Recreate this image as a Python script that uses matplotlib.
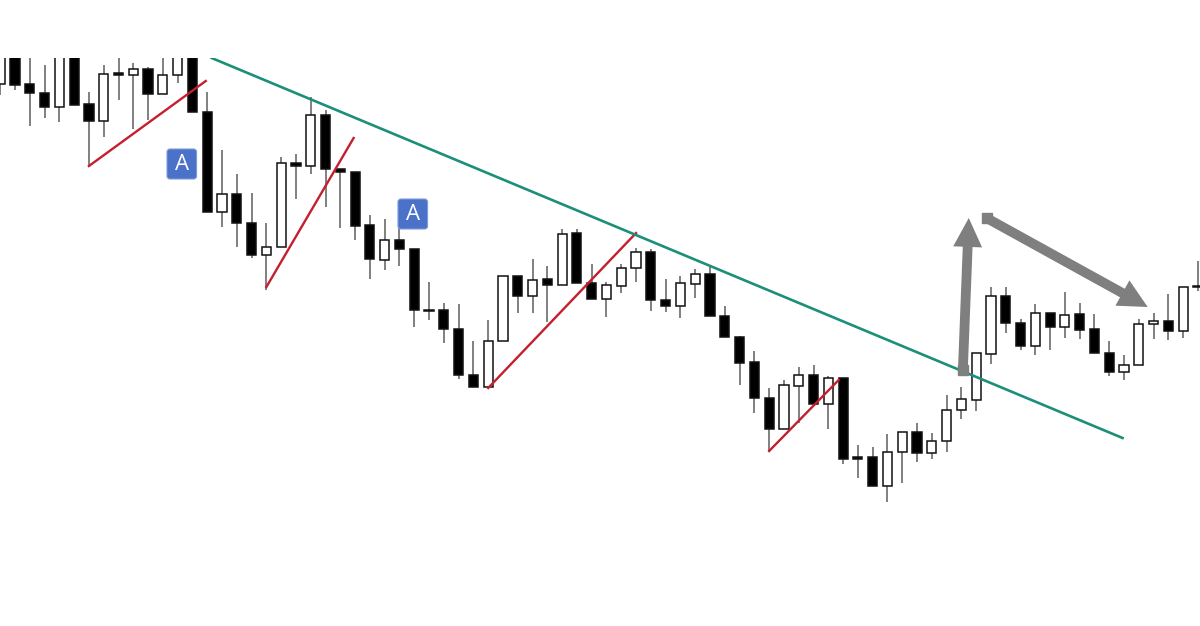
import matplotlib
matplotlib.use("Agg")
import matplotlib.pyplot as plt
from matplotlib.patches import FancyBboxPatch

# all values, price axis is in image rows (inverted)
body_top = [50, 50, 84, 93, 50, 50, 104, 74, 73, 69, 69, 75, 50, 50, 112, 194, 194, 223, 247, 163,
            163, 115, 115, 169, 172, 225, 240, 240, 249, 310, 310, 329, 375, 341, 276, 276, 280, 279, 234, 233,
            283, 285, 268, 252, 252, 300, 283, 274, 274, 316, 337, 362, 398, 385, 375, 375, 378, 378, 457, 457,
            452, 432, 432, 441, 410, 399, 353, 296, 296, 323, 313, 313, 315, 314, 329, 353, 365, 324, 321, 321,
            287, 286]
body_bottom = [84, 85, 93, 107, 107, 105, 121, 121, 75, 75, 94, 94, 75, 112, 212, 212, 223, 255, 255, 247,
               166, 166, 169, 172, 226, 259, 260, 249, 310, 311, 329, 375, 387, 387, 341, 296, 296, 285, 285, 283,
               299, 299, 286, 268, 300, 306, 306, 284, 316, 337, 363, 398, 429, 429, 386, 404, 404, 459, 459, 486,
               486, 452, 453, 453, 441, 410, 400, 354, 323, 346, 346, 327, 327, 330, 353, 372, 372, 365, 324, 331,
               331, 287]
wick_high = [50, 50, 50, 65, 50, 50, 92, 65, 50, 63, 67, 50, 50, 50, 92, 150, 174, 193, 223, 157,
             154, 97, 110, 169, 172, 215, 219, 228, 249, 282, 303, 304, 341, 320, 276, 276, 259, 266, 229, 229,
             264, 282, 264, 248, 249, 279, 276, 269, 267, 306, 336, 351, 388, 380, 367, 365, 376, 378, 445, 447,
             434, 432, 423, 433, 395, 387, 353, 287, 287, 319, 304, 313, 292, 303, 314, 341, 355, 319, 313, 294,
             287, 261]
wick_low = [95, 90, 126, 118, 122, 105, 167, 137, 100, 129, 120, 94, 83, 112, 212, 227, 247, 258, 290, 247,
            199, 174, 207, 228, 240, 279, 270, 266, 327, 320, 343, 379, 387, 387, 341, 313, 313, 322, 285, 283,
            299, 317, 293, 282, 311, 312, 318, 298, 316, 337, 385, 413, 452, 429, 423, 404, 429, 464, 478, 486,
            502, 483, 462, 459, 452, 419, 411, 364, 333, 350, 355, 350, 338, 339, 353, 376, 380, 365, 339, 340,
            338, 291]
hollow = [1, 0, 0, 0, 1, 0, 0, 1, 0, 1, 0, 1, 1, 0, 0, 1, 0, 0, 1, 1,
          0, 1, 0, 0, 0, 0, 1, 0, 0, 0, 0, 0, 0, 1, 1, 0, 1, 0, 1, 0,
          0, 1, 1, 1, 0, 0, 1, 1, 0, 0, 0, 0, 0, 1, 1, 0, 1, 0, 0, 0,
          1, 1, 0, 1, 1, 1, 1, 1, 0, 0, 1, 0, 1, 0, 0, 0, 1, 1, 1, 0,
          1, 0]

# trend lines: (bar start, price start, bar end, price end)
red_lines = [(6.0, 166, 13.9, 81), (18.0, 287, 23.9, 138), (33.0, 388, 43.0, 233), (52.0, 451, 56.7, 380)]
green_line = (14.3, 58, 75.9, 438)
arrows = [(65.1, 370, 65.5, 218), (66.7, 218, 77.6, 307)]
badges = [(12.28, 164), (27.9, 214)]

x = list(range(len(body_top)))
bar_px = 14.79

fig = plt.figure(figsize=(12, 6.26), dpi=100)
ax = fig.add_axes([0, 0, 1, 1 - 58 / 626])
ax.set_xlim(-0.2 / bar_px, 1200 / bar_px)
ax.set_ylim(626, 58)
ax.axis("off")

ax.vlines(x, wick_high, wick_low, color="#808080", linewidth=1.4, zorder=1)
for i in x:
    if hollow[i]:
        face = "white"
    else:
        face = "black"
    ax.bar(i, body_bottom[i] - body_top[i], bottom=body_top[i], width=0.62,
           facecolor=face, edgecolor="#111111", linewidth=1.1, zorder=2)

for x0, y0, x1, y1 in red_lines:
    ax.plot([x0, x1], [y0, y1], color="#c41f2e", linewidth=1.7, zorder=3)
ax.plot(green_line[0::2], green_line[1::2], color="#1c8f78", linewidth=1.9, zorder=3)

for x0, y0, x1, y1 in arrows:
    ax.annotate("", xy=(x1, y1), xytext=(x0, y0),
                arrowprops=dict(arrowstyle="simple,head_length=1.3,head_width=1.3,tail_width=0.44",
                                mutation_scale=16, color="#7f7f7f", linewidth=0,
                                shrinkA=0, shrinkB=0), zorder=4)
    ax.plot(x0, y0, marker="s", markersize=7, color="#7f7f7f", linewidth=0, zorder=4)

for bx, by in badges:
    box = FancyBboxPatch((bx - 1.0, by - 15), 2.0, 30,
                         boxstyle="round,pad=0,rounding_size=0.2", mutation_aspect=14.79,
                         facecolor="#4a72c8", edgecolor="#7f9bdc", linewidth=0.8, zorder=5)
    ax.add_patch(box)
    ax.text(bx, by, "A", color="white", fontsize=16, fontfamily="Open Sans",
            ha="center", va="center", zorder=6)

fig.savefig("out.png", dpi=100, facecolor="white")
